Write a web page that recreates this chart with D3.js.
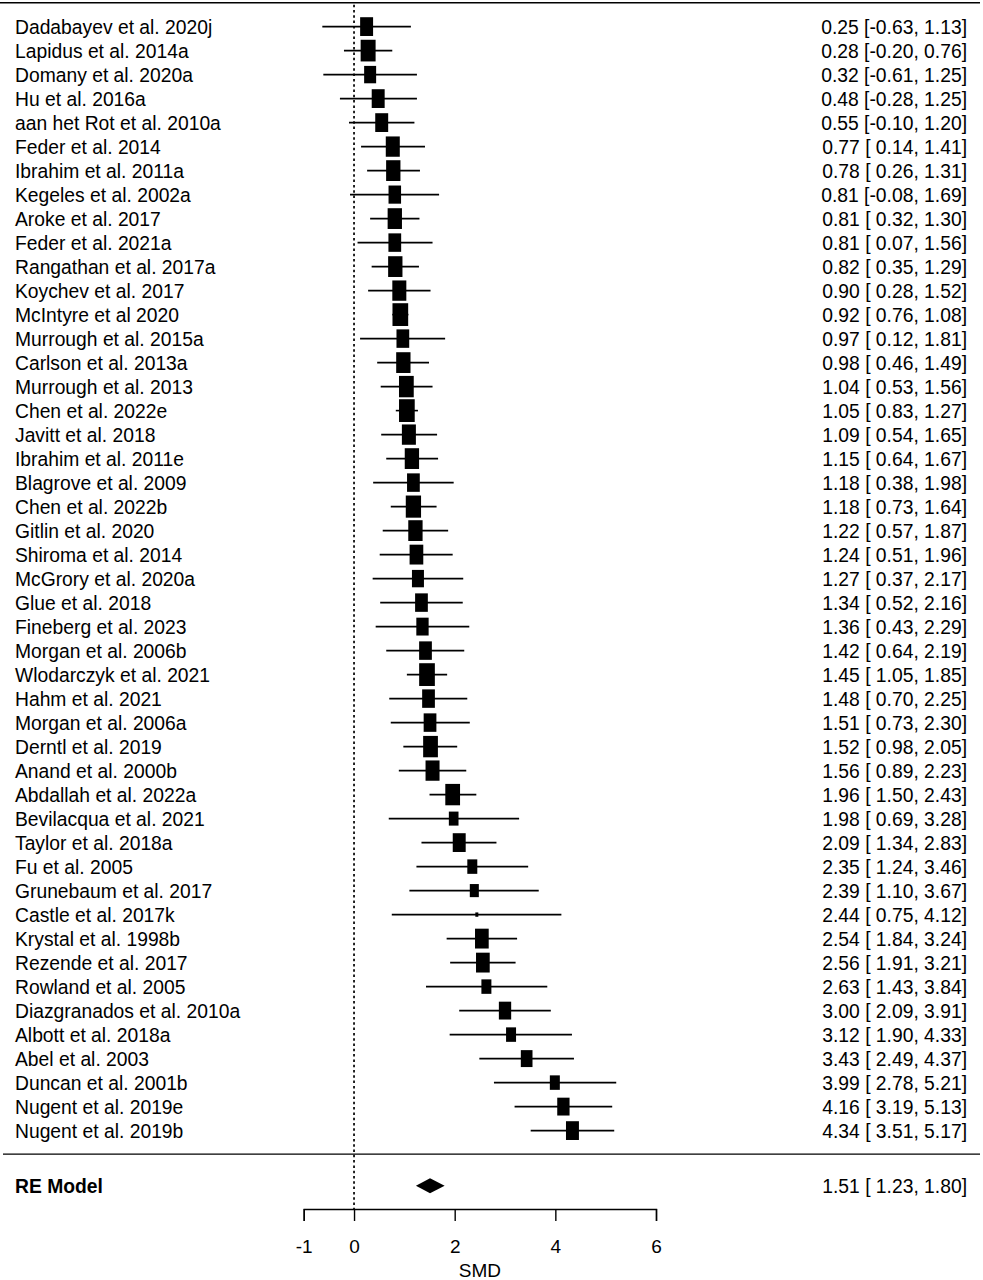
<!DOCTYPE html>
<html>
<head>
<meta charset="utf-8">
<script src="https://cdn.jsdelivr.net/npm/d3@7"></script>
<style>
body{margin:0;background:#fff}
svg{display:block}
</style>
</head>
<body>
<div id="chart"></div>
<script>

// study rows, top to bottom
const studies=["Dadabayev et al. 2020j","Lapidus et al. 2014a","Domany et al. 2020a","Hu et al. 2016a","aan het Rot et al. 2010a","Feder et al. 2014","Ibrahim et al. 2011a","Kegeles et al. 2002a","Aroke et al. 2017","Feder et al. 2021a","Rangathan et al. 2017a","Koychev et al. 2017","McIntyre et al 2020","Murrough et al. 2015a","Carlson et al. 2013a","Murrough et al. 2013","Chen et al. 2022e","Javitt et al. 2018","Ibrahim et al. 2011e","Blagrove et al. 2009","Chen et al. 2022b","Gitlin et al. 2020","Shiroma et al. 2014","McGrory et al. 2020a","Glue et al. 2018","Fineberg et al. 2023","Morgan et al. 2006b","Wlodarczyk et al. 2021","Hahm et al. 2021","Morgan et al. 2006a","Derntl et al. 2019","Anand et al. 2000b","Abdallah et al. 2022a","Bevilacqua et al. 2021","Taylor et al. 2018a","Fu et al. 2005","Grunebaum et al. 2017","Castle et al. 2017k","Krystal et al. 1998b","Rezende et al. 2017","Rowland et al. 2005","Diazgranados et al. 2010a","Albott et al. 2018a","Abel et al. 2003","Duncan et al. 2001b","Nugent et al. 2019e","Nugent et al. 2019b"]

const smd=[0.25,0.28,0.32,0.48,0.55,0.77,0.78,0.81,0.81,0.81,0.82,0.90,0.92,0.97,0.98,1.04,1.05,1.09,1.15,1.18,1.18,1.22,1.24,1.27,1.34,1.36,1.42,1.45,1.48,1.51,1.52,1.56,1.96,1.98,2.09,2.35,2.39,2.44,2.54,2.56,2.63,3.00,3.12,3.43,3.99,4.16,4.34]

const lower=[-0.63,-0.20,-0.61,-0.28,-0.10,0.14,0.26,-0.08,0.32,0.07,0.35,0.28,0.76,0.12,0.46,0.53,0.83,0.54,0.64,0.38,0.73,0.57,0.51,0.37,0.52,0.43,0.64,1.05,0.70,0.73,0.98,0.89,1.50,0.69,1.34,1.24,1.10,0.75,1.84,1.91,1.43,2.09,1.90,2.49,2.78,3.19,3.51]

const upper=[1.13,0.76,1.25,1.25,1.20,1.41,1.31,1.69,1.30,1.56,1.29,1.52,1.08,1.81,1.49,1.56,1.27,1.65,1.67,1.98,1.64,1.87,1.96,2.17,2.16,2.29,2.19,1.85,2.25,2.30,2.05,2.23,2.43,3.28,2.83,3.46,3.67,4.12,3.24,3.21,3.84,3.91,4.33,4.37,5.21,5.13,5.17]

// approximate study weights (%)
const weights=[2.14,2.33,2.05,2.14,2.14,2.24,2.27,2.10,2.27,2.12,2.27,2.24,2.40,2.12,2.27,2.31,2.40,2.24,2.27,2.12,2.36,2.27,2.21,2.05,2.12,2.08,2.12,2.40,2.12,2.12,2.31,2.24,2.31,1.83,2.14,1.86,1.77,1.20,2.21,2.21,1.86,2.08,1.86,2.02,1.86,2.08,2.14]

const pooled={label:"RE Model",est:1.51,lo:1.23,hi:1.80}

const xTicks=[-1,0,2,4,6]
const xTitle="SMD"

const width=983
const height=1280
const font="'Liberation Sans',Arial,sans-serif"
const fs=19.3

const x=d3.scaleLinear().domain([-1,6]).range([303.7,656])
const row=d3.scaleLinear().domain([0,1]).range([26.6,50.6])
const size=d3.scaleLinear().domain(d3.extent(weights)).range([3,15.7])

const fmt=v=>(v<0?"":" ")+v.toFixed(2)
const ciText=(e,l,u)=>e.toFixed(2)+" ["+fmt(l)+", "+u.toFixed(2)+"]"

const svg=d3.select("#chart")
.append("svg")
.attr("width",width)
.attr("height",height)
.style("font-family",font)

const yTop=2.7
const ySep=row(47)-0.5
const yRE=row(48.3)
const yAxis=1209

// header and separator rules
svg.append("line")
.attr("x1",0).attr("x2",980)
.attr("y1",yTop).attr("y2",yTop)
.attr("stroke","#000").attr("stroke-width",1.4)

svg.append("line")
.attr("x1",3).attr("x2",980)
.attr("y1",ySep).attr("y2",ySep)
.attr("stroke","#000").attr("stroke-width",1.4)

// reference line at zero
svg.append("line")
.attr("x1",x(0)).attr("x2",x(0))
.attr("y1",yTop+2).attr("y2",yAxis)
.attr("stroke","#000")
.attr("stroke-width",1.7)
.attr("stroke-dasharray","2.5,2.8")

const data=studies.map((s,i)=>({label:s,est:smd[i],lo:lower[i],hi:upper[i],w:weights[i],i:i}))

const g=svg.append("g")

g.selectAll("line.ci")
.data(data)
.enter()
.append("line")
.attr("class","ci")
.attr("x1",d=>x(d.lo))
.attr("x2",d=>x(d.hi))
.attr("y1",d=>row(d.i))
.attr("y2",d=>row(d.i))
.attr("stroke","#000")
.attr("stroke-width",1.6)

g.selectAll("rect")
.data(data)
.enter()
.append("rect")
.attr("x",d=>x(d.est)-size(d.w)/2)
.attr("y",d=>row(d.i)-size(d.w)*1.45/2)
.attr("width",d=>size(d.w))
.attr("height",d=>size(d.w)*1.45)
.attr("fill","#000")

g.selectAll("text.lab")
.data(data)
.enter()
.append("text")
.attr("class","lab")
.attr("x",15)
.attr("y",d=>row(d.i)+7)
.attr("font-size",fs)
.text(d=>d.label)

g.selectAll("text.val")
.data(data)
.enter()
.append("text")
.attr("class","val")
.attr("x",967)
.attr("y",d=>row(d.i)+7)
.attr("text-anchor","end")
.attr("font-size",fs)
.text(d=>ciText(d.est,d.lo,d.hi))

// pooled estimate
svg.append("text")
.attr("x",15)
.attr("y",yRE+7)
.attr("font-size",fs)
.attr("font-weight","bold")
.text(pooled.label)

svg.append("polygon")
.attr("points",[
[x(pooled.lo),yRE],
[x(pooled.est),yRE-7.5],
[x(pooled.hi),yRE],
[x(pooled.est),yRE+7.5]
].map(p=>p.join(",")).join(" "))
.attr("fill","#000")

svg.append("text")
.attr("x",967)
.attr("y",yRE+7)
.attr("text-anchor","end")
.attr("font-size",fs)
.text(ciText(pooled.est,pooled.lo,pooled.hi))

// axis
const axis=svg.append("g")
.attr("transform","translate(0,"+yAxis+")")
.call(d3.axisBottom(x).tickValues(xTicks).tickFormat(d=>String(d)).tickSize(12).tickSizeOuter(12).tickPadding(19))

axis.selectAll("path,line").attr("stroke","#000").attr("stroke-width",1.4)
axis.selectAll("text").attr("font-size",19).attr("font-family",font).attr("fill","#000")

svg.append("text")
.attr("x",(x(-1)+x(6))/2)
.attr("y",1277)
.attr("text-anchor","middle")
.attr("font-size",19)
.text(xTitle)

</script>
</body>
</html>
